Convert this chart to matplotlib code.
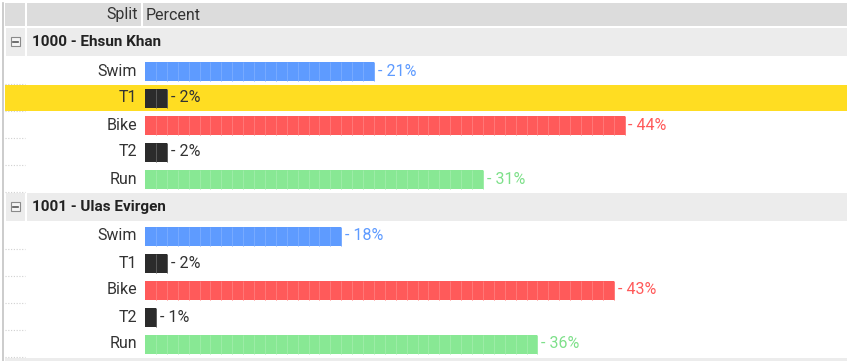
import numpy as np
from matplotlib import pyplot as plt
from matplotlib.patches import Rectangle

# data
groups = ["1000 - Ehsun Khan", "1001 - Ulas Evirgen"]
splits = ["Swim", "T1", "Bike", "T2", "Run"]
percent_1000 = [21, 2, 44, 2, 31]
percent_1001 = [18, 2, 43, 1, 36]
percents = [percent_1000, percent_1001]

split_colors = {"Swim": "#5e9bff", "T1": "#2b2b2b", "Bike": "#ff5a5a",
                "T2": "#2b2b2b", "Run": "#88e894"}
sep_colors = {"Swim": "#78abff", "T1": "#5a5a5a", "Bike": "#ff7878",
              "T2": "#5a5a5a", "Run": "#9deda7"}
label_colors = {"Swim": "#5e9bff", "T1": "#333333", "Bike": "#ff5a5a",
                "T2": "#333333", "Run": "#7ee08a"}

W, H = 847, 361
PX_PER_PCT = 10.9
BAR_X0 = 145
ROW_H = 27
FONT = "Roboto"

plt.rcParams['font.family'] = [FONT, 'DejaVu Sans']

fig = plt.figure(figsize=(W / 100, H / 100), dpi=100)
ax = fig.add_axes([0, 0, 1, 1])
ax.set_xlim(0, W)
ax.set_ylim(H, 0)
ax.axis("off")

# bar axes: x in percent, y in pixel rows
bx = fig.add_axes([0, 0, 1, 1], sharey=ax)
bx.set_xlim(-BAR_X0 / PX_PER_PCT, (W - BAR_X0) / PX_PER_PCT)
bx.axis("off")
bx.patch.set_alpha(0)

# header
ax.add_patch(Rectangle((5, 3), 20, 23, color="#dcdcdc", lw=0))
ax.add_patch(Rectangle((27, 3), 114, 23, color="#dcdcdc", lw=0))
ax.add_patch(Rectangle((143, 3), W - 143, 23, color="#dcdcdc", lw=0))
ax.text(138, 15, "Split", ha="right", va="center", fontsize=11.5, color="#333333")
ax.text(146, 15, "Percent", ha="left", va="center", fontsize=11.5, color="#333333")

# left border
ax.plot([2.5, 2.5], [3, H], color="#c4c4c4", lw=1.2)

group_tops = [28, 193]
for g, top in enumerate(group_tops):
    # group header row
    ax.add_patch(Rectangle((6, top), 19, 28, color="#ececec", lw=0))
    ax.add_patch(Rectangle((27, top), W - 27, 28, color="#ececec", lw=0))
    # collapse icon
    cy = top + 14
    ax.add_patch(Rectangle((10.5, cy - 5), 9, 9, facecolor="#f4f4f4",
                           edgecolor="#8a8a8a", lw=0.8))
    ax.plot([13, 17.5], [cy - 0.5, cy - 0.5], color="#555555", lw=1.2)
    ax.text(32, cy, groups[g], ha="left", va="center", fontsize=11,
            fontweight="bold", color="#222222")

    rows_top = top + 29.5
    centers = rows_top + ROW_H / 2 + ROW_H * np.arange(len(splits))
    for i, name in enumerate(splits):
        rtop = rows_top + ROW_H * i
        if g == 0 and name == "T1":
            ax.add_patch(Rectangle((5, rtop), W - 5, ROW_H - 1, color="#ffdd22", lw=0))
        # dotted separators in gutter
        ax.plot([5, 25], [rtop + ROW_H - 0.5] * 2, color="#d0d0d0", lw=0.8,
                ls=(0, (1, 1.5)))
        ax.text(137, centers[i], name, ha="right", va="center", fontsize=11.5,
                color="#333333")

    vals = percents[g]
    for i, name in enumerate(splits):
        v = vals[i]
        y = centers[i]
        bx.barh(y, v, left=0, height=19, color=split_colors[name], lw=0)
        bx.vlines(np.arange(1, v + 1), y - 9.5, y + 9.5,
                  color=sep_colors[name], lw=0.7)
        bx.text(v + 0.35, y, f"- {v}%", ha="left", va="center", fontsize=11.5,
                color=label_colors[name])

# bottom line
ax.add_patch(Rectangle((5, 358), W - 5, 3, color="#ececec", lw=0))

fig.savefig("out.png", dpi=100)
